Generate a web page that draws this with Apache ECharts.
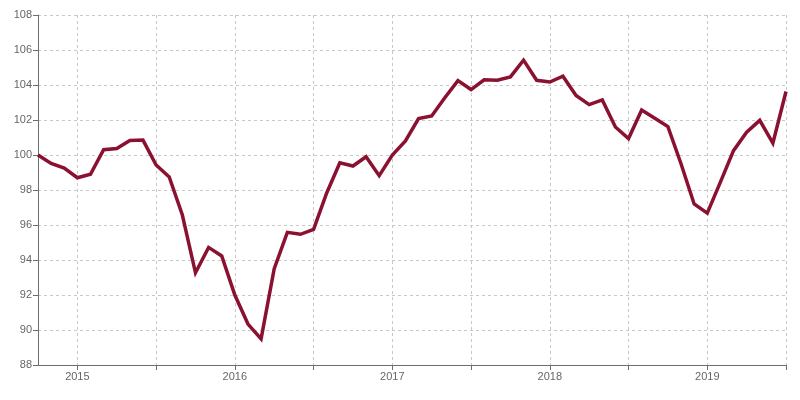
<!DOCTYPE html>
<html>
<head>
<meta charset="utf-8">
<script src="https://cdn.jsdelivr.net/npm/echarts@6/dist/echarts.min.js"></script>
<style>html,body{margin:0;padding:0;background:#fff}#c{width:800px;height:400px}</style>
</head>
<body>
<div id="c"></div>
<script>
var months = [
 '2014-10','2014-11','2014-12',
 '2015-01','2015-02','2015-03','2015-04','2015-05','2015-06','2015-07','2015-08','2015-09','2015-10','2015-11','2015-12',
 '2016-01','2016-02','2016-03','2016-04','2016-05','2016-06','2016-07','2016-08','2016-09','2016-10','2016-11','2016-12',
 '2017-01','2017-02','2017-03','2017-04','2017-05','2017-06','2017-07','2017-08','2017-09','2017-10','2017-11','2017-12',
 '2018-01','2018-02','2018-03','2018-04','2018-05','2018-06','2018-07','2018-08','2018-09','2018-10','2018-11','2018-12',
 '2019-01','2019-02','2019-03','2019-04','2019-05','2019-06','2019-07'
];
var values = [
 100.0, 99.52, 99.25,
 98.7, 98.9, 100.3, 100.37, 100.83, 100.85, 99.43, 98.74, 96.57, 93.27, 94.72, 94.23,
 92.0, 90.34, 89.49, 93.5, 95.58, 95.47, 95.75, 97.83, 99.56, 99.37, 99.9, 98.82,
 100.0, 100.8, 102.08, 102.23, 103.27, 104.25, 103.74, 104.3, 104.27, 104.46, 105.42, 104.27,
 104.17, 104.5, 103.4, 102.88, 103.15, 101.6, 100.94, 102.57, 102.1, 101.62, 99.5, 97.2,
 96.68, 98.45, 100.25, 101.3, 101.98, 100.68, 103.63
];
var yMin = 88, yMax = 108, yStep = 2;

var isHalfYear = function (i, v) { var m = v.slice(5); return m === '01' || m === '07'; };
var isYear = function (i, v) { return v.slice(5) === '01'; };

var chart = echarts.init(document.getElementById('c'), null, {renderer: 'canvas'});
chart.setOption({
  animation: false,
  backgroundColor: '#fff',
  grid: {left: 38, right: 14, top: 15, bottom: 35, containLabel: false},
  xAxis: {
    type: 'category',
    data: months,
    boundaryGap: false,
    axisLine: {lineStyle: {color: '#6e6e6e', width: 1}},
    axisTick: {show: true, interval: isHalfYear, length: 5, lineStyle: {color: '#6e6e6e'}},
    axisLabel: {interval: isYear, formatter: function (v) { return v.slice(0, 4); },
      color: '#666', fontSize: 11, fontFamily: 'Liberation Sans, Arial, sans-serif', margin: 6},
    splitLine: {show: true, interval: isHalfYear, lineStyle: {color: '#c8c8c8', type: [3, 3], width: 1}}
  },
  yAxis: {
    type: 'value',
    min: yMin, max: yMax, interval: yStep,
    axisLine: {show: true, lineStyle: {color: '#6e6e6e', width: 1}},
    axisTick: {show: true, length: 5, lineStyle: {color: '#6e6e6e'}},
    axisLabel: {color: '#666', fontSize: 11, fontFamily: 'Liberation Sans, Arial, sans-serif', margin: 6},
    splitLine: {show: true, lineStyle: {color: '#c8c8c8', type: [3, 3], width: 1}}
  },
  series: [{
    type: 'line',
    data: values,
    showSymbol: false,
    symbol: 'none',
    lineStyle: {color: '#8b1131', width: 3.5, cap: 'butt', join: 'miter'},
    itemStyle: {color: '#8b1131'}
  }]
});
</script>
</body>
</html>
